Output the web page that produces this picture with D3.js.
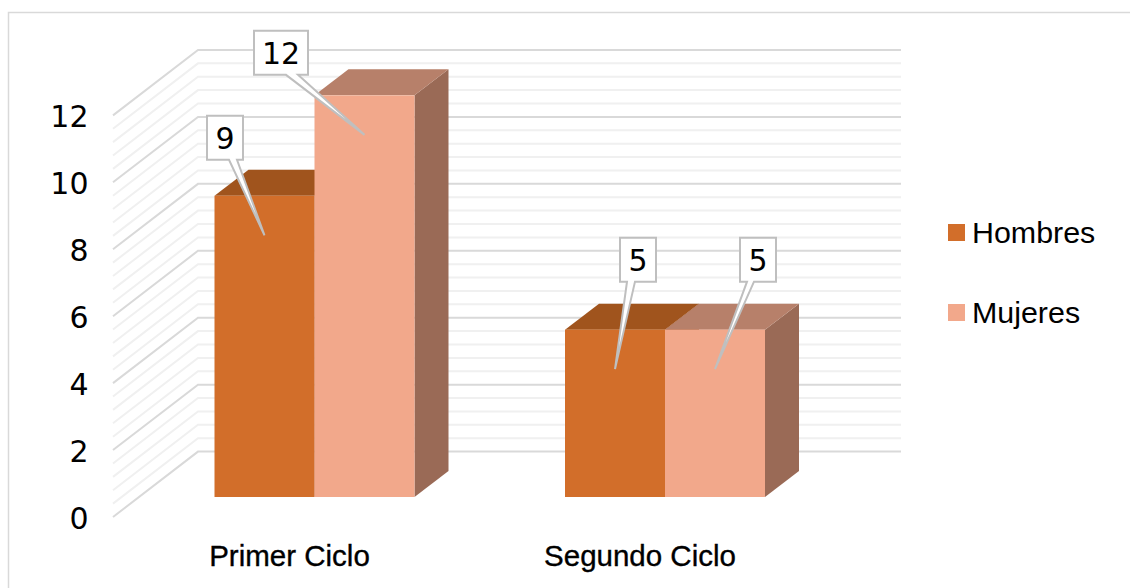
<!DOCTYPE html>
<html><head><meta charset="utf-8">
<script src="https://cdn.jsdelivr.net/npm/d3@7/dist/d3.min.js"></script>
<style>html,body{margin:0;padding:0;background:#fff}svg{display:block}text{font-family:"Liberation Sans",Arial,sans-serif;fill:#000}</style>
</head><body><div id="c"></div>
<script>
const categories = ["Primer Ciclo", "Segundo Ciclo"];
const seriesNames = ["Hombres", "Mujeres"];
const hombres = [9, 5];
const mujeres = [12, 5];
const yTicks = [0, 2, 4, 6, 8, 10, 12];
const colors = {
  Hombres: {front:"#d26e2a", top:"#a0541d", side:"#9a5420"},
  Mujeres: {front:"#f2a88b", top:"#b7806a", side:"#9a6a56"}
};
const digitFont = '"DejaVu Sans",sans-serif';
const W = 1130, H = 588;
const svg = d3.select("#c").append("svg").attr("width", W).attr("height", H);

// chart frame
svg.append("path").attr("d", `M8.5,${H}V12.5H${W}`).attr("fill","none").attr("stroke","#d9d9d9").attr("stroke-width",1.5);

const unit = 33.47;
const y = d3.scaleLinear().domain([0,12]).range([497, 497 - 12*unit]);
const wall = {x0:113, x1:198, dy0:20, dy1:-45.4, right:901};
const depth = {x:34, y:-26};

// gridlines
const minor = d3.range(0, 31).map(i => i*0.4);
svg.append("g").selectAll("path").data(minor).join("path")
  .attr("fill","none")
  .attr("d", v => `M${wall.x0},${y(v)+wall.dy0}L${wall.x1},${y(v)+wall.dy1}H${wall.right}`)
  .attr("stroke", (v,i) => i%5===0 ? "#d9d9d9" : "#f0f0f0")
  .attr("stroke-width", 2);

// y axis
const yFront = d3.scaleLinear().domain([0,12]).range([y(0)+wall.dy0, y(12)+wall.dy0]);
const ax = svg.append("g").attr("transform","translate(88.5,1.5)")
  .call(d3.axisLeft(yFront).tickValues(yTicks).tickSize(0).tickPadding(0).tickFormat(d3.format("d")));
ax.select(".domain").remove();
ax.selectAll("text").style("font-family",digitFont).style("font-size","30px").attr("fill","#000");

// bars
const x0 = d3.scaleBand().domain(categories).range([139.25, 840.25]).paddingInner(150.5/350.5).paddingOuter(75.25/350.5);
const x1 = d3.scaleBand().domain(seriesNames).range([0, x0.bandwidth()]);
const series = [{name:"Hombres",values:hombres},{name:"Mujeres",values:mujeres}];
const marks = [];
series.forEach(s => s.values.forEach((v,i) => marks.push({s:s.name, v, cat:categories[i], i})));

const gBars = svg.append("g");
marks.forEach(m => {
  const xl = x0(m.cat)+x1(m.s), xr = xl+x1.bandwidth(), t = y(m.v), b = y(0);
  const c = colors[m.s];
  const g = gBars.append("g");
  g.append("path").attr("fill",c.side).attr("d",`M${xr},${t}l${depth.x},${depth.y}V${b+depth.y}L${xr},${b}Z`);
  g.append("path").attr("fill",c.top).attr("d",`M${xl},${t}l${depth.x},${depth.y}H${xr+depth.x}L${xr},${t}Z`);
  g.append("rect").attr("fill",c.front).attr("x",xl).attr("y",t).attr("width",xr-xl).attr("height",b-t);
});

// callouts (offsets from the bar top centre)
const labelOffsets = [
  {dx:-39.5, top:-80,   w:36, a:4,   b:12},
  {dx:-83.5, top:-64.5, w:54, a:5,   b:17},
  {dx:23,    top:-92,   w:36, a:-11, b:-3},
  {dx:43,    top:-92,   w:36, a:-11, b:-4}
];
const gLab = svg.append("g");
[marks[0], marks[2], marks[1], marks[3]].forEach((m,k) => {
  const o = labelOffsets[k];
  const cx = x0(m.cat)+x1(m.s)+x1.bandwidth()/2;
  const t = y(m.v);
  const tip = [cx, t+39.5];
  const bx = cx+o.dx, by = t+o.top, h = 44;
  const g = gLab.append("g");
  g.append("path").attr("fill","#fff").attr("stroke","#bfbfbf").attr("stroke-width",2).attr("stroke-linejoin","miter")
    .attr("d",`M${bx-o.w/2},${by}H${bx+o.w/2}V${by+h}H${bx+o.b}L${tip[0]},${tip[1]}L${bx+o.a},${by+h}H${bx-o.w/2}Z`);
  g.append("text").attr("x",bx).attr("y",by+33.5).attr("text-anchor","middle").attr("font-size",30).style("font-family",digitFont).text(m.v);
});

// category labels
svg.append("g").selectAll("text").data(categories).join("text")
  .attr("x", d => x0(d)+x0.bandwidth()/2-25).attr("y",565.5).attr("text-anchor","middle")
  .attr("font-size",29.5).attr("stroke","#000").attr("stroke-width",0.35).text(d=>d);

// legend
const leg = svg.append("g").selectAll("g").data(seriesNames).join("g")
  .attr("transform",(d,i)=>`translate(948,${224+i*80})`);
leg.append("rect").attr("width",17).attr("height",17).attr("fill",d=>colors[d].front);
leg.append("text").attr("x",24).attr("y",18.5).attr("font-size",30.4).text(d=>d);
</script></body></html>
